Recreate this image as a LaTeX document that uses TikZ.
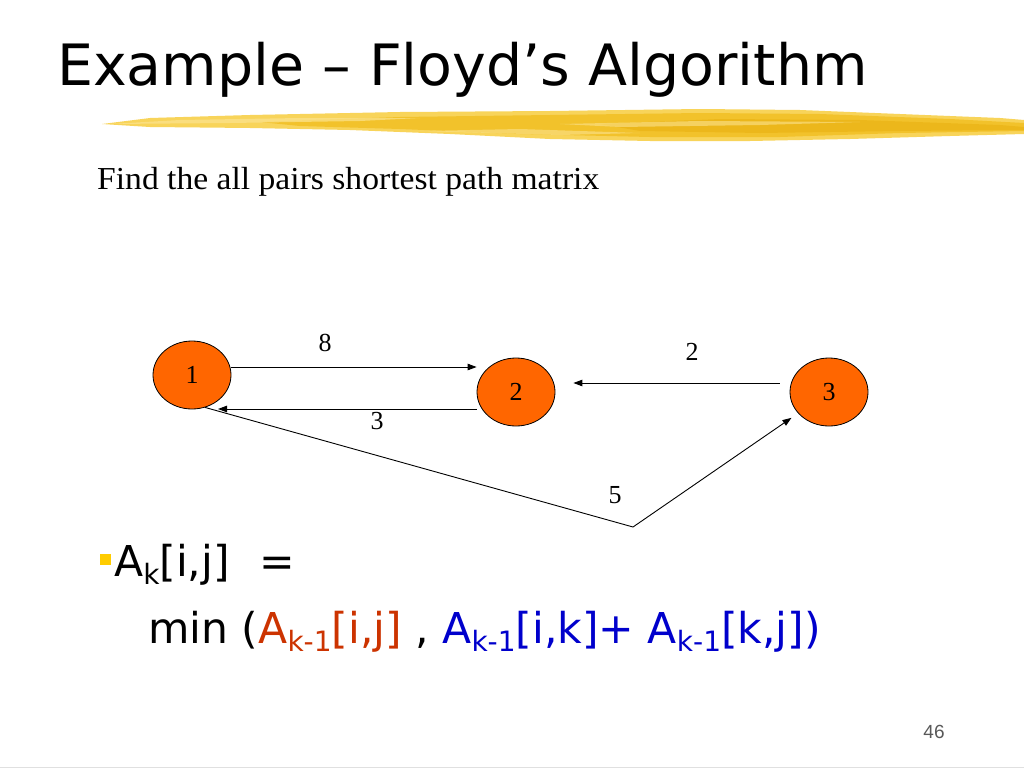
\documentclass[tikz,border=0pt]{standalone}
\usepackage{fontspec}
\setmainfont{Liberation Serif}
\newfontfamily\tahoma{DejaVu Sans}
\newfontfamily\arialf{Liberation Sans}
\usetikzlibrary{arrows.meta,shapes.geometric}
\definecolor{nodeorange}{HTML}{FF6600}
\definecolor{brushA}{HTML}{F8D45A}
\definecolor{brushB}{HTML}{F0BC1C}
\definecolor{brushC}{HTML}{FBE38F}
\definecolor{brushD}{HTML}{E8AE0C}
\definecolor{redf}{HTML}{CC3300}
\definecolor{bluef}{HTML}{0000CC}
\definecolor{bulletc}{HTML}{FFCC00}
\newcommand{\subsc}[1]{\raisebox{-8pt}{\fontsize{28}{30}\selectfont #1}}
\begin{document}
\begin{tikzpicture}[x=1pt,y=-1pt,
  vert/.style={ellipse, draw=black, line width=0.8pt, fill=nodeorange, minimum width=78pt, minimum height=68pt, inner sep=0pt, font=\fontsize{26}{28}\selectfont},
  arr/.style={line width=0.9pt, -{Triangle[length=9pt,width=6.5pt]}},
  plain/.style={line width=0.9pt},
  elabel/.style={inner sep=0pt, font=\fontsize{26}{28}\selectfont}]
\useasboundingbox (0,0) rectangle (1024,768);
\fill[white] (0,0) rectangle (1024,768);
% brush stroke
\fill[brushA] (102,124) -- (150,118) -- (250,115) -- (400,112) -- (550,111) -- (700,109) -- (800,110) -- (900,114) -- (1000,118) -- (1024,120) -- (1024,134) -- (950,136) -- (850,139) -- (750,141) -- (650,141) -- (550,139) -- (450,134) -- (350,130) -- (250,128) -- (150,127) -- cycle;
\fill[brushB,opacity=0.75] (260,122) -- (400,117) -- (550,115) -- (700,113) -- (820,114) -- (950,119) -- (1024,123) -- (1024,131) -- (900,133) -- (780,137) -- (650,137) -- (520,134) -- (400,129) -- (300,126) -- cycle;
\fill[brushD,opacity=0.5] (600,124) -- (720,119) -- (860,120) -- (1000,125) -- (1024,127) -- (1024,130) -- (900,131) -- (760,133) -- (640,131) -- cycle;
\fill[brushC,opacity=0.7] (110,124) -- (180,120) -- (300,118) -- (420,118) -- (360,121) -- (230,123) -- cycle;
\fill[brushC,opacity=0.6] (560,124) -- (700,121) -- (860,122) -- (760,125) -- (620,127) -- cycle;
\fill[brushC,opacity=0.6] (420,131) -- (520,129) -- (640,133) -- (560,135) -- cycle;
% title and text
\node[anchor=base west, inner sep=0pt, font=\tahoma\fontsize{57}{62}\selectfont] (title) at (57,85) {Example – Floyd’s Algorithm};
\node[anchor=base west, inner sep=0pt, xscale=1.05, font=\fontsize{32}{36}\selectfont] (sub) at (97,189) {Find the all pairs shortest path matrix};
% graph
\node[vert] (n1) at (192,375) {1};
\node[vert] (n2) at (516,392) {2};
\node[vert] (n3) at (829,392) {3};
\coordinate (bend) at (633,527);
\draw[arr] (n1.east |- 0,367) -- (n2.west |- 0,367);
\draw[arr] (n2.west |- 0,409) -- ([xshift=26pt]n1.center |- 0,409);
\draw[arr] ([xshift=-10pt]n3.west |- 0,383) -- ([xshift=18pt]n2.east |- 0,383);
\draw[plain] (n1.-68) -- (bend);
\draw[arr, shorten >=8pt] (bend) -- (n3);
\node[elabel] (l8) at (325,343) {8};
\node[elabel] (l3) at (377,421) {3};
\node[elabel] (l2) at (692,352) {2};
\node[elabel] (l5) at (615,495) {5};
% formula
\fill[bulletc] (100,554) rectangle (111,565);
\node[anchor=base west, inner sep=0pt, font=\tahoma\fontsize{42.5}{48}\selectfont] (f1) at (114,576) {A\subsc{k}[i,j]\hspace{30pt}=};
\node[anchor=base west, inner sep=0pt, font=\tahoma\fontsize{42.5}{48}\selectfont] (f2) at (148,643) {min (\textcolor{redf}{A\subsc{k-1}[i,j]} , \textcolor{bluef}{A\subsc{k-1}[i,k]+ A\subsc{k-1}[k,j])}};
% footer
\node[inner sep=0pt, text=black!65, font=\arialf\fontsize{19}{21}\selectfont] (pg) at (934,732) {46};
\draw[black!12, line width=1pt] (0,767) -- (1024,767);
\end{tikzpicture}
\end{document}
